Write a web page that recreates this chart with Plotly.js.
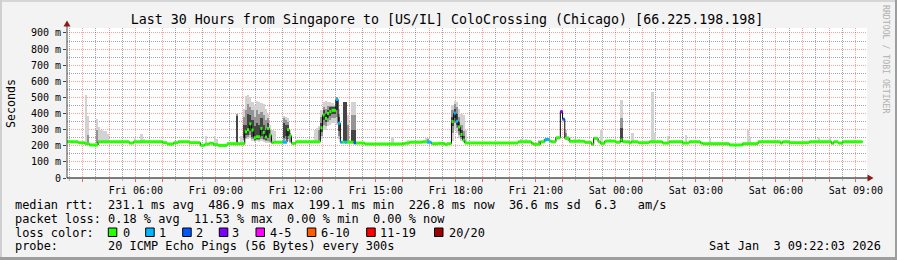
<!DOCTYPE html>
<html><head><meta charset="utf-8">
<script src="https://cdn.plot.ly/plotly-3.0.1.min.js"></script>
<style>html,body{margin:0;padding:0;background:#f3f3f3;}#chart{width:897px;height:260px;}</style>
</head><body><div id="chart"></div>
<script>
// ---------- median RTT (step segments: start time, value ms, loss level) ----------
const medT = ['Fri 03:25','Fri 03:50','Fri 04:05','Fri 04:15','Fri 04:35','Fri 05:45','Fri 05:55','Fri 07:00','Fri 07:10','Fri 07:25',
 'Fri 07:35','Fri 08:00','Fri 08:25','Fri 08:35','Fri 08:45','Fri 08:55','Fri 09:05','Fri 09:25','Fri 10:05','Fri 10:10',
 'Fri 10:15','Fri 10:20','Fri 10:25','Fri 10:30','Fri 10:40','Fri 10:45','Fri 10:50','Fri 10:55','Fri 11:00','Fri 11:05',
 'Fri 11:10','Fri 11:30','Fri 11:40','Fri 11:45','Fri 11:50','Fri 12:00','Fri 12:55','Fri 13:00','Fri 13:05','Fri 13:10',
 'Fri 13:15','Fri 13:20','Fri 13:30','Fri 13:35','Fri 13:40','Fri 13:45','Fri 13:50','Fri 13:55','Fri 14:10','Fri 14:15',
 'Fri 14:35','Fri 16:00','Fri 16:05','Fri 16:15','Fri 16:45','Fri 16:55','Fri 17:05','Fri 17:20','Fri 17:35','Fri 17:40',
 'Fri 17:50','Fri 17:55','Fri 18:00','Fri 18:05','Fri 18:10','Fri 18:15','Fri 18:20','Fri 20:20','Fri 20:50','Fri 20:55',
 'Fri 21:10','Fri 21:20','Fri 21:30','Fri 21:35','Fri 21:45','Fri 21:55','Fri 22:00','Fri 22:05','Fri 22:15','Fri 22:50',
 'Fri 23:05','Fri 23:10','Fri 23:20','Fri 23:25','Fri 23:35','Sat 00:00','Sat 00:10','Sat 00:15','Sat 00:30','Sat 00:35',
 'Sat 00:50','Sat 01:15','Sat 01:45','Sat 02:00','Sat 02:30','Sat 02:45','Sat 03:10','Sat 03:15','Sat 04:15','Sat 04:45',
 'Sat 05:20','Sat 06:10','Sat 06:15','Sat 06:30','Sat 07:15','Sat 08:05','Sat 08:10','Sat 08:20','Sat 08:30'];
const medV = [225,219,213,205,225,217,225,219,211,219,
 225,219,203,210,216,207,202,213,287,300,
 336,298,250,256,308,283,254,308,267,219,
 222,222,300,262,215,225,312,391,370,401,
 412,420,487,340,222,222,222,222,218,217,
 211,213,216,222,225,222,213,215,207,213,
 350,403,352,317,270,236,218,225,215,209,
 225,239,229,225,250,412,365,246,228,221,
 209,246,225,215,229,222,236,225,219,225,
 219,225,217,225,217,225,217,213,205,213,
 225,217,225,219,225,215,225,217,225];
const medLoss = [0,0,0,0,0,0,0,0,0,0,
 0,0,0,0,0,0,0,0,0,0,
 0,0,0,0,0,0,0,0,0,0,
 0,1,0,0,0,0,0,0,0,0,
 0,0,1,1,1,0,1,0,2,0,
 0,0,0,0,0,1,0,0,0,0,
 0,1,1,0,0,0,0,0,0,0,
 0,1,0,0,0,3,2,0,0,0,
 0,0,0,0,0,0,0,0,0,0,
 0,0,0,0,0,0,0,0,0,0,
 0,0,0,0,0,0,0,0,0];
const medEnd = 'Sat 09:15';

// ---------- smoke (5-minute buckets: ping spread, ms) ----------
const smokeT = ['Fri 04:05','Fri 04:10','Fri 04:30','Fri 04:35','Fri 04:40','Fri 04:45','Fri 04:50','Fri 04:55','Fri 05:55','Fri 06:10',
 'Fri 06:15','Fri 08:35','Fri 08:55','Fri 09:00','Fri 09:45','Fri 09:55','Fri 10:00','Fri 10:05','Fri 10:10','Fri 10:15',
 'Fri 10:20','Fri 10:25','Fri 10:30','Fri 10:35','Fri 10:40','Fri 10:45','Fri 10:50','Fri 10:55','Fri 11:00','Fri 11:05',
 'Fri 11:10','Fri 11:30','Fri 11:35','Fri 11:40','Fri 11:45','Fri 12:40','Fri 12:45','Fri 12:50','Fri 12:55','Fri 13:00',
 'Fri 13:05','Fri 13:10','Fri 13:15','Fri 13:20','Fri 13:25','Fri 13:30','Fri 13:35','Fri 13:45','Fri 13:50','Fri 13:55',
 'Fri 14:05','Fri 14:10','Fri 15:35','Fri 16:10','Fri 16:50','Fri 16:55','Fri 17:50','Fri 17:55','Fri 18:00','Fri 18:05',
 'Fri 18:10','Fri 18:15','Fri 18:20','Fri 20:25','Fri 20:35','Fri 21:05','Fri 21:15','Fri 21:20','Fri 22:05','Fri 22:10',
 'Fri 22:15','Fri 22:25','Fri 22:35','Fri 23:25','Fri 23:45','Sat 00:10','Sat 00:35','Sat 01:20','Sat 01:25','Sat 01:55',
 'Sat 02:35','Sat 03:30','Sat 04:55','Sat 05:00','Sat 07:35','Sat 08:00'];
const smokeLo = [213,213,205,225,225,225,225,225,225,225,
 225,210,207,207,213,213,220,240,245,250,
 230,225,230,225,230,225,220,220,215,215,
 222,222,222,230,220,225,225,225,240,300,
 300,320,330,340,340,330,240,222,222,222,
 218,218,215,213,222,222,230,300,280,250,
 230,222,218,222,222,209,222,225,240,230,
 225,222,222,225,225,225,225,219,219,217,
 217,213,205,213,225,225];
const smokeHi = [515,385,366,315,300,294,294,275,250,273,
 245,260,260,245,400,260,430,510,515,505,
 470,455,475,470,465,460,430,400,330,300,
 290,387,380,370,300,300,310,320,420,470,
 475,470,470,465,455,505,430,474,474,390,
 474,474,255,235,246,250,453,480,470,430,
 400,390,300,240,245,235,240,250,300,260,
 255,245,240,298,240,484,277,536,279,261,
 269,246,298,256,256,256];
const smokeMidLo = [null,213,215,null,null,null,null,null,null,null,
 null,null,null,null,215,null,235,250,255,265,
 240,230,235,235,240,235,230,230,225,null,
 null,230,240,240,225,null,null,230,260,330,
 320,350,360,370,370,380,260,225,225,225,
 220,220,null,null,null,222,280,340,310,270,
 245,225,null,null,null,209,null,230,245,null,
 null,null,null,null,null,225,null,null,null,null,
 null,null,null,null,null,null];
const smokeMidHi = [null,270,300,null,null,null,null,null,null,null,
 null,null,null,null,395,null,380,420,460,440,
 420,380,420,400,410,390,360,370,300,null,
 null,370,360,350,280,null,null,300,380,440,
 430,445,450,450,445,500,400,474,474,330,
 390,390,null,null,null,245,420,460,440,380,
 330,290,null,null,null,230,null,245,280,null,
 null,null,null,null,null,370,null,null,null,null,
 null,null,null,null,null,null];
const smokeCoreLo = [null,null,null,null,null,null,null,null,null,null,
 null,null,null,null,225,null,250,265,270,290,
 255,235,240,245,260,245,235,250,null,null,
 null,250,260,260,null,null,null,null,285,360,
 345,375,385,395,395,420,290,230,230,null,
 225,225,null,null,null,null,320,370,330,290,
 255,228,null,null,null,null,null,null,null,null,
 null,null,null,null,null,225,null,null,null,null,
 null,null,null,null,null,null];
const smokeCoreHi = [null,null,null,null,null,null,null,null,null,null,
 null,null,null,null,385,null,330,330,400,390,
 360,320,340,330,370,330,300,340,null,null,
 null,340,330,330,null,null,null,null,340,420,
 400,425,440,440,440,495,380,470,470,null,
 300,300,null,null,null,null,380,430,400,350,
 300,260,null,null,null,null,null,null,null,null,
 null,null,null,null,null,308,null,null,null,null,
 null,null,null,null,null,null];

// ---------- legend / labels ----------
const lossLabels = ['0','1','2','3','4-5','6-10','11-19','20/20'];
const lossColors = ['#26ff00','#00b8ff','#0059ff','#7e00ff','#ff00ff','#ff5e00','#ff0000','#a10000'];
const xTickFormat = '%a %H:%M';          // labels: Fri 06:00 ... Sat 09:00, every 3rd hourly tick
const yTickSuffix = ' m';                // labels: 0, 100 m ... 900 m
const statLines = [
 'median rtt:  231.1 ms avg  486.9 ms max  199.1 ms min  226.8 ms now  36.6 ms sd  6.3   am/s',
 'packet loss: 0.18 % avg  11.53 % max  0.00 % min  0.00 % now',
 'loss color:',
 'probe:       20 ICMP Echo Pings (56 Bytes) every 300s'];
const stampText = 'Sat Jan  3 09:22:03 2026';
const titleText = 'Last 30 Hours from Singapore to [US/IL] ColoCrossing (Chicago) [66.225.198.198]';

// ---------- helpers ----------
function toDate(s){ return (s.slice(0,3)==='Sat' ? '2026-01-03 ' : '2026-01-02 ') + s.slice(4) + ':00'; }
const L = 67, T = 28, PW = 800, PH = 150;
const px = p => (p - L) / PW;
const py = p => (T + PH - p) / PH;
const nb = s => s.replace(/ /g, '\u00a0');
const FONT = 'DejaVu Sans Mono';
const XR = ['2026-01-02 03:25:00','2026-01-03 09:25:00'], YR = [0, 931];

const traces = [];
function band(lo, hi, color){
  const base = [], len = [];
  for (let i = 0; i < smokeT.length; i++){
    if (lo[i] == null || hi[i] == null){ base.push(null); len.push(null); }
    else { base.push(lo[i]); len.push(hi[i] - lo[i]); }
  }
  traces.push({type:'bar', x: smokeT.map(toDate), base: base, y: len, offset: 0, width: 300000,
    marker:{color: color, line:{width:0}}, hoverinfo:'skip'});
}
band(smokeLo, smokeHi, '#d2d2d2');
band(smokeMidLo, smokeMidHi, '#949494');
band(smokeCoreLo, smokeCoreHi, '#454545');

// black median
const allT = medT.concat([medEnd]).map(toDate);
traces.push({type:'scatter', mode:'lines', x: allT, y: medV.concat([medV[medV.length-1]]),
  line:{color:'#000', width:1, shape:'hv'}, hoverinfo:'skip'});
// loss-coloured median
for (let l = 0; l < lossColors.length; l++){
  const xs = [], ys = [];
  for (let i = 0; i < medV.length; i++){
    if (medLoss[i] !== l) continue;
    xs.push(allT[i], allT[i+1], null); ys.push(medV[i], medV[i], null);
  }
  if (xs.length) traces.push({type:'scatter', mode:'lines', x: xs, y: ys,
    line:{color: lossColors[l], width:3}, connectgaps:false, hoverinfo:'skip'});
}

const RED = 'rgba(255,0,0,0.38)', GRAY = 'rgba(60,60,60,0.45)';
const shapes = [], ann = [];
// frame
shapes.push({type:'rect', xref:'paper', yref:'paper', x0:px(0), x1:px(897), y0:py(0), y1:py(2), fillcolor:'#d6d6d6', line:{width:0}});
shapes.push({type:'rect', xref:'paper', yref:'paper', x0:px(0), x1:px(2), y0:py(0), y1:py(260), fillcolor:'#cfcfcf', line:{width:0}});
shapes.push({type:'rect', xref:'paper', yref:'paper', x0:px(895), x1:px(897), y0:py(0), y1:py(260), fillcolor:'#9e9e9e', line:{width:0}});
shapes.push({type:'rect', xref:'paper', yref:'paper', x0:px(0), x1:px(897), y0:py(257), y1:py(260), fillcolor:'#9e9e9e', line:{width:0}});
// axis lines and arrows
shapes.push({type:'line', xref:'paper', yref:'paper', x0:px(67), x1:px(67), y0:py(178), y1:py(24), line:{color:'#444', width:1}});
shapes.push({type:'line', xref:'paper', yref:'paper', x0:px(67), x1:px(870), y0:py(178), y1:py(178), line:{color:'#000', width:1}});
shapes.push({type:'path', xref:'paper', yref:'paper', fillcolor:'#8b1a1a', line:{width:0},
  path:`M ${px(63.5)} ${py(26.5)} L ${px(70.5)} ${py(26.5)} L ${px(67)} ${py(20.5)} Z`});
shapes.push({type:'path', xref:'paper', yref:'paper', fillcolor:'#8b1a1a', line:{width:0},
  path:`M ${px(867.5)} ${py(174.5)} L ${px(867.5)} ${py(181.5)} L ${px(873.5)} ${py(178)} Z`});

// stat lines
const rowY = [204.5, 218.5, 232.5, 246.5];
statLines.forEach((s, i) => ann.push({xref:'paper', yref:'paper', x:px(14.5), y:py(rowY[i]), xanchor:'left', yanchor:'middle',
  text: nb(s), showarrow:false, borderpad:0, borderwidth:0, font:{family:FONT, size:11.9, color:'#000'}}));
ann.push({xref:'paper', yref:'paper', x:px(881), y:py(rowY[3]), xanchor:'right', yanchor:'middle',
  text: nb(stampText), showarrow:false, borderpad:0, borderwidth:0, font:{family:FONT, size:11.9, color:'#000'}});
// loss colour legend
const boxX = [108.3,145.7,182.7,219.3,256,307.3,366.7,434.5];
const labX = [122.5,159.3,196,232.3,270,321,380,449];
lossLabels.forEach((lab, i) => {
  shapes.push({type:'rect', xref:'paper', yref:'paper', x0:px(boxX[i]), x1:px(boxX[i]+8.5), y0:py(228), y1:py(236.5),
    fillcolor: lossColors[i], line:{color:'#000', width:1}});
  ann.push({xref:'paper', yref:'paper', x:px(labX[i]), y:py(rowY[2]), xanchor:'left', yanchor:'middle',
    text: lab, showarrow:false, borderpad:0, borderwidth:0, font:{family:FONT, size:11.9, color:'#000'}});
});
// y title
ann.push({xref:'paper', yref:'paper', x:px(11), y:py(103), xanchor:'center', yanchor:'middle', textangle:-90,
  text:'Seconds', showarrow:false, borderpad:0, borderwidth:0, font:{family:FONT, size:11.6, color:'#000'}});
// rrdtool credit
ann.push({xref:'paper', yref:'paper', x:px(886), y:py(59), xanchor:'center', yanchor:'middle', textangle:90,
  text: nb('RRDTOOL / TOBI OETIKER'), showarrow:false, borderpad:0, borderwidth:0, font:{family:FONT, size:8.2, color:'#b0b0b0'}});

const layout = {
  width:897, height:260, margin:{l:67, r:30, t:28, b:82, pad:0},
  paper_bgcolor:'#f3f3f3', plot_bgcolor:'#ffffff', showlegend:false,
  barmode:'overlay', bargap:0,
  title:{text:titleText, font:{family:FONT, size:13.3, color:'#000'}, x:447/897, xref:'container', xanchor:'center',
    y:1-19/260, yref:'container', yanchor:'middle'},
  xaxis:{type:'date', range:XR, tickmode:'linear', tick0:'2026-01-02 00:00:00', dtick:3600000, ticklabelstep:3,
    tickformat:xTickFormat,
    ticks:'outside', ticklen:3, tickcolor:'rgba(255,0,0,0.6)', showgrid:true, gridcolor:RED, griddash:'1px,1px', gridwidth:1,
    minor:{tickmode:'linear', tick0:'2026-01-02 00:30:00', dtick:1800000, showgrid:true, gridcolor:GRAY, griddash:'1px,1px', gridwidth:1,
      ticks:'outside', ticklen:2, tickcolor:'rgba(120,120,120,0.5)'},
    showline:false, zeroline:false, tickfont:{family:FONT, size:10, color:'#000'}, fixedrange:true},
  yaxis:{range:YR, tickmode:'linear', tick0:0, dtick:100, ticksuffix:yTickSuffix, labelalias:{'0 m':'0'},
    ticks:'outside', ticklen:3, tickcolor:'#444',
    showgrid:true, gridcolor:RED, griddash:'1px,1px', gridwidth:1,
    minor:{tickmode:'linear', tick0:0, dtick:50, showgrid:true, gridcolor:GRAY, griddash:'1px,1px', gridwidth:1},
    showline:false, zeroline:false, tickfont:{family:FONT, size:10, color:'#000'}, fixedrange:true},
  shapes:shapes, annotations:ann
};
Plotly.newPlot('chart', traces, layout, {staticPlot:true, displayModeBar:false});
</script></body></html>
